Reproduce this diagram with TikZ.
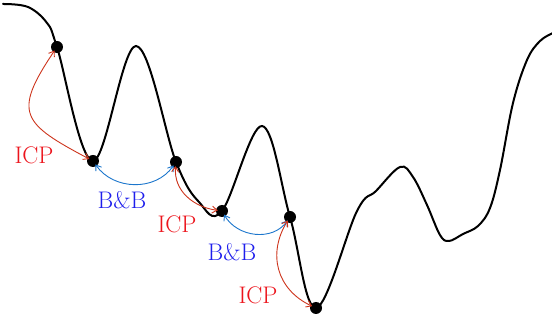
\documentclass[tikz,border=0pt]{standalone}
\usepackage{xcolor}
\usepackage{tikz}
\usetikzlibrary{positioning,arrows.meta}
\definecolor{rojoflecha}{RGB}{205,52,28}
\definecolor{rojotexto}{RGB}{236,20,28}
\definecolor{azulflecha}{RGB}{28,118,204}
\definecolor{azultexto}{RGB}{30,30,236}

\begin{document}
\begin{tikzpicture}[x=1pt, y=-1pt,
  punto/.style={circle, fill=black, inner sep=0pt, minimum size=12pt},
  salto/.style={draw=#1, line width=0.9pt,
                {Straight Barb[length=5pt,width=7pt]}-{Straight Barb[length=5pt,width=7pt]},
                shorten <=-2pt, shorten >=-2pt},
  etiq/.style={font=\fontsize{24}{28}\selectfont, text=#1, inner sep=0pt}]
  \useasboundingbox (0,0) rectangle (552,320);
  % paisaje de energia
  \draw[line width=2pt, line cap=round] plot[smooth, tension=0.6] coordinates {
    (3,4) (28,7) (47,23) (57,47) (93,161) (136,46) (176,162) (199,202)
    (222,211) (262,126) (290,217) (316,308) (357,211) (376,191)
    (400,167) (413,177) (427,205) (440,235) (449,241) (463,234) (478,226)
    (490,208) (500,170) (513,103) (527,60) (540,41) (553,33)};
  \node[punto] (a) at (57,47) {};
  \node[punto] (b) at (93,161) {};
  \node[punto] (c) at (176,162) {};
  \node[punto] (d) at (222,211) {};
  \node[punto] (e) at (290,217) {};
  \node[punto] (f) at (316,308) {};
  \draw[salto=rojoflecha] (a) to[out=236, in=152, looseness=1.7] (b);
  \draw[salto=azulflecha] (b) to[out=-55, in=-125] (c);
  \draw[salto=rojoflecha] (c) to[out=265, in=172] (d);
  \draw[salto=azulflecha] (d) to[out=-60, in=-125] (e);
  \draw[salto=rojoflecha] (e) to[out=238, in=155, looseness=1.1] (f);
  \node[etiq=rojotexto] (icp1) at (34,155) {ICP};
  \node[etiq=azultexto] (bb1) at (122,200) {B\&B};
  \node[etiq=rojotexto] (icp2) at (177,224) {ICP};
  \node[etiq=azultexto] (bb2) at (232,252) {B\&B};
  \node[etiq=rojotexto] (icp3) at (258,295) {ICP};
\end{tikzpicture}
\end{document}
